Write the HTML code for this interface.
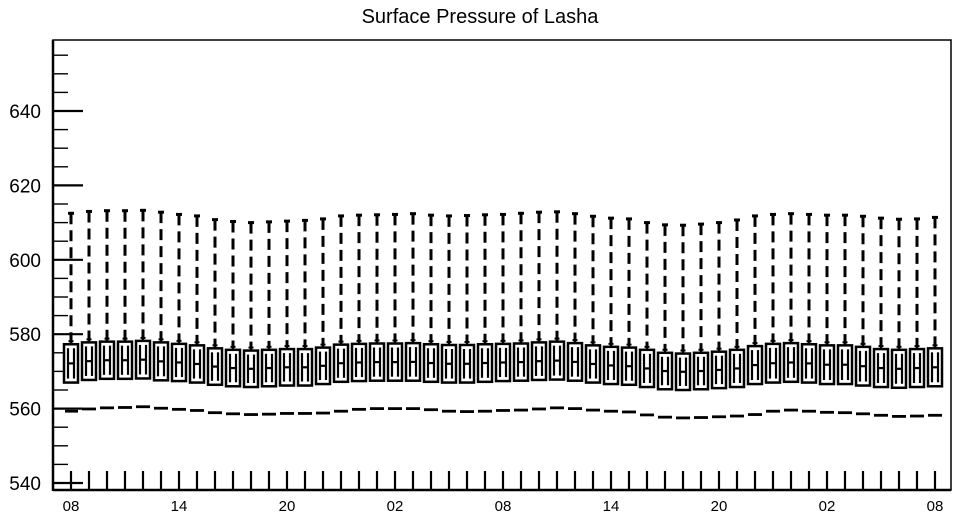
<!DOCTYPE html>
<html><head><meta charset="utf-8"><style>
html,body{margin:0;padding:0;background:#fff}
svg{display:block;font-family:"Liberation Sans",sans-serif}
</style></head><body>
<svg id="chart" width="958" height="518" viewBox="0 0 958 518" xmlns="http://www.w3.org/2000/svg">
<text x="480" y="23" font-size="20" text-anchor="middle">Surface Pressure of Lasha</text>
<g id="plot"></g>
</svg>
<script>
const xLabels = ["08","","","","","","14","","","","","","20","","","","","","02","","","","","","08","","","","","","14","","","","","","20","","","","","","02","","","","","","08"];
const whiskerMax = [612.5,613,613.2,613.2,613.3,612.8,612.2,611.8,610.8,610.3,610,610.2,610.4,610.6,611,611.8,612,612.1,612.2,612.4,612,611.8,611.9,612.1,612.2,612.5,612.8,612.9,612.4,611.7,611.2,611,610,609.4,609.3,609.6,610,610.7,611.8,612.2,612.4,612.2,612,612,611.7,611.2,610.9,611,611.4];
const q3 = [577.3,577.8,578,578,578.2,577.8,577.4,577,576.2,575.8,575.6,575.8,576,576,576.4,577.2,577.4,577.5,577.5,577.6,577.3,577.1,577.1,577.3,577.4,577.5,577.8,578,577.6,577,576.6,576.4,575.8,575,574.8,575,575.3,575.8,576.8,577.4,577.6,577.3,577,577,576.6,576,575.8,576,576.2];
const q1 = [567,567.7,568,568,568.1,567.6,567.4,567,566.4,566,565.8,566,566.2,566.2,566.6,567.2,567.4,567.5,567.5,567.5,567.2,567,567,567.2,567.4,567.5,567.7,567.8,567.5,567,566.6,566.4,565.8,565.2,565,565.2,565.5,565.8,566.6,567,567.2,567,566.6,566.6,566.2,565.8,565.6,565.8,566];
const minVal = [559.3,559.9,560.2,560.3,560.5,560.1,559.8,559.5,558.9,558.6,558.4,558.5,558.7,558.7,558.8,559.3,559.8,560,560,560,559.7,559.3,559.2,559.3,559.5,559.6,559.9,560.2,560,559.6,559.3,559.1,558.3,557.7,557.5,557.6,557.8,558,558.4,559.3,559.6,559.3,559,558.9,558.6,558.2,557.9,558,558.2];
const yTicks = [540,560,580,600,620,640];

const NS = "http://www.w3.org/2000/svg";
const L = 53, R = 951, T = 40, B = 490;
function y(v){ return 483 - (v - 540) * 3.72; }
function x(i){ return 71 + i * 18; }
const g = document.getElementById('plot');
function mk(tag, attrs){ const e = document.createElementNS(NS, tag); for (const k in attrs) e.setAttribute(k, attrs[k]); g.appendChild(e); return e; }

let f = mk('rect', {x:L, y:T, width:R-L, height:B-T, fill:'none', stroke:'#000', 'stroke-width':1.5});


let la = mk('line', {x1:L, y1:T, x2:L, y2:B+1, stroke:'#000', 'stroke-width':2.5});


let ba = mk('line', {x1:L, y1:B, x2:R, y2:B, stroke:'#000', 'stroke-width':2.5});



for (let v = 540; v <= 655; v += 5) {
  const major = v % 20 === 0;
  const t = mk('line', {x1:L, y1:y(v), x2:L + (major ? 30 : 15), y2:y(v), stroke:'#000', 'stroke-width': major ? 2.2 : 1.4});
  
  
}
yTicks.forEach(v => {
  const t = mk('text', {x:41, y:y(v) + 7, 'font-size':19, 'text-anchor':'end'});
  t.textContent = v;
  
  
});

xLabels.forEach((lab, i) => {
  const cx = x(i);
  const tk = mk('line', {x1:cx, y1:B, x2:cx, y2:B - 19, stroke:'#000', 'stroke-width':2.2});
  
  
  if (lab) {
    const t = mk('text', {x:cx, y:511, 'font-size':15, 'text-anchor':'middle'});
    t.textContent = lab;
    
    
  }
  const w = mk('line', {x1:cx, y1:y(whiskerMax[i]), x2:cx, y2:y(q3[i]) - 2, stroke:'#000', 'stroke-width':3, 'stroke-dasharray':'11 6'});
  
  
  const cap = mk('line', {x1:cx - 3, y1:y(whiskerMax[i]), x2:cx + 3, y2:y(whiskerMax[i]), stroke:'#000', 'stroke-width':3});
  
  
  const ar = mk('line', {x1:cx, y1:y(q3[i]) - 6, x2:cx, y2:y(q3[i]), stroke:'#000', 'stroke-width':2.5});
  
  
  const ah = mk('line', {x1:cx - 2.5, y1:y(q3[i]) - 3, x2:cx + 2.5, y2:y(q3[i]) - 3, stroke:'#000', 'stroke-width':2});
  
  
  const b = mk('rect', {x:cx - 7, y:y(q3[i]), width:14, height:y(q1[i]) - y(q3[i]), fill:'#fff', stroke:'#000', 'stroke-width':2.5});
  
  
  const med = (q1[i] + q3[i]) / 2;
  const hL = mk('line', {x1:cx - 3, y1:y(q3[i]) + 4, x2:cx - 3, y2:y(q1[i]) - 4, stroke:'#000', 'stroke-width':2.2});
  
  
  const hR = mk('line', {x1:cx + 3, y1:y(q3[i]) + 4, x2:cx + 3, y2:y(q1[i]) - 4, stroke:'#000', 'stroke-width':2.2});
  
  
  const hm = mk('line', {x1:cx - 3, y1:y(med), x2:cx + 3, y2:y(med), stroke:'#000', 'stroke-width':2.2});
  
  
  const md = mk('line', {x1:cx - (i === 0 ? 6 : 7), y1:y(minVal[i]), x2:cx + 7, y2:y(minVal[i]), stroke:'#000', 'stroke-width':2.8});
  
  
});
</script>
</body></html>
